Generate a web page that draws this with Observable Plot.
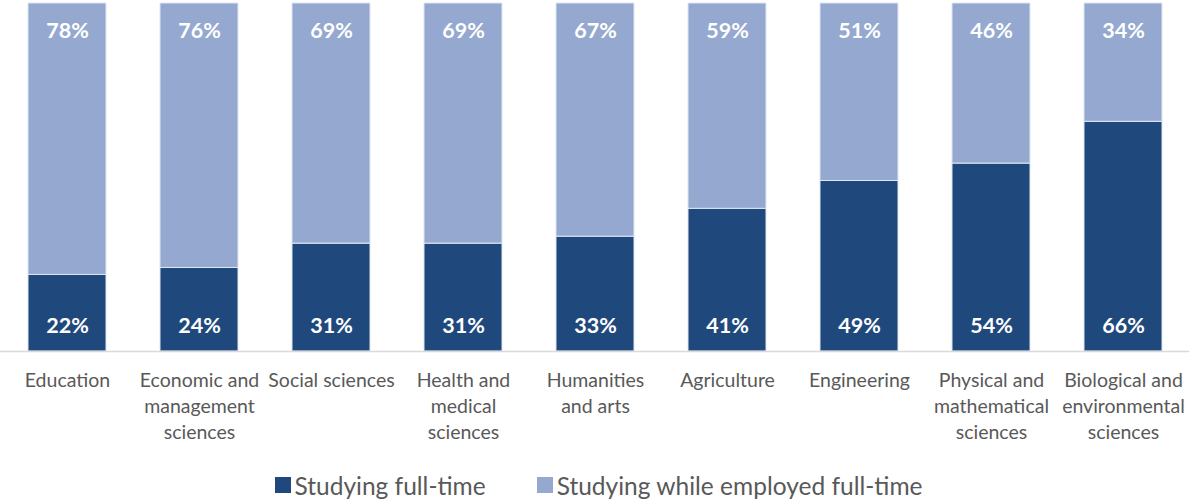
<!DOCTYPE html>
<html>
<head>
<meta charset="utf-8">
<script src="https://cdn.jsdelivr.net/npm/d3@7"></script>
<script src="https://cdn.jsdelivr.net/npm/@observablehq/plot@0.6"></script>
<style>
  html, body { margin: 0; padding: 0; background: #fff; overflow: hidden; }
  #chart svg { display: block; }
  #legend { display: flex; justify-content: center; align-items: center; height: 28px; margin-top: 11px; font-family: Lato, "Open Sans", sans-serif; font-size: 24.5px; color: #595959; padding-left: 8px; }
  .item { display: flex; align-items: center; }
  .sw { width: 16px; height: 16px; margin-right: 4px; }
</style>
</head>
<body>
<div id="chart"></div>
<div id="legend"></div>
<script>
const categories = ["Education", "Economic and management sciences", "Social sciences", "Health and medical sciences", "Humanities and arts", "Agriculture", "Engineering", "Physical and mathematical sciences", "Biological and environmental sciences"];
const categoryLabels = ["Education", "Economic and\nmanagement\nsciences", "Social sciences", "Health and\nmedical\nsciences", "Humanities\nand arts", "Agriculture", "Engineering", "Physical and\nmathematical\nsciences", "Biological and\nenvironmental\nsciences"];
const seriesNames = ["Studying full-time", "Studying while employed full-time"];
const fullTime = [22, 24, 31, 31, 33, 41, 49, 54, 66];
const employed = [78, 76, 69, 69, 67, 59, 51, 46, 34];
const colors = ["#1F497D", "#95A9D0"];

const data = [];
categories.forEach((c, i) => {
  data.push({category: c, series: seriesNames[0], value: fullTime[i]});
  data.push({category: c, series: seriesNames[1], value: employed[i]});
});
const labelOf = new Map(categories.map((c, i) => [c, categoryLabels[i]]));

const W = 1189, H = 460, MT = 3, MB = H - 351;

const chart = Plot.plot({
  width: W,
  height: H,
  marginLeft: 0,
  marginRight: 0,
  marginTop: MT,
  marginBottom: MB,
  style: {fontFamily: "Lato, 'Open Sans', sans-serif", background: "white"},
  x: {domain: categories, axis: null, paddingInner: 0.41, paddingOuter: 0.205},
  y: {domain: [0, 100], axis: null},
  color: {domain: seriesNames, range: colors},
  marks: [
    Plot.barY(data, {x: "category", y: "value", fill: "series", order: seriesNames, stroke: "#dfe6f2", strokeWidth: 1}),
    Plot.ruleY([0], {stroke: "#d9d9d9", strokeWidth: 1.5}),
    Plot.text(categories, {x: d => d, y: 0, text: (d, i) => fullTime[i] + "%", dy: -25, fill: "white", fontWeight: "bold", fontSize: 21.5}),
    Plot.text(categories, {x: d => d, y: 100, text: (d, i) => employed[i] + "%", dy: 28, fill: "white", fontWeight: "bold", fontSize: 21.5}),
    Plot.text(categories, {x: d => d, frameAnchor: "bottom", text: d => labelOf.get(d), lineAnchor: "top", dy: 17, lineHeight: 1.33, fill: "#595959", fontSize: 19.5})
  ]
});
document.getElementById("chart").appendChild(chart);

const legend = document.getElementById("legend");
seriesNames.forEach((s, i) => {
  const item = document.createElement("div");
  item.className = "item";
  if (i > 0) item.style.marginLeft = "51px";
  const sw = document.createElement("div");
  sw.className = "sw";
  sw.style.background = colors[i];
  const t = document.createElement("span");
  t.textContent = s;
  item.appendChild(sw);
  item.appendChild(t);
  legend.appendChild(item);
});
</script>
</body>
</html>
